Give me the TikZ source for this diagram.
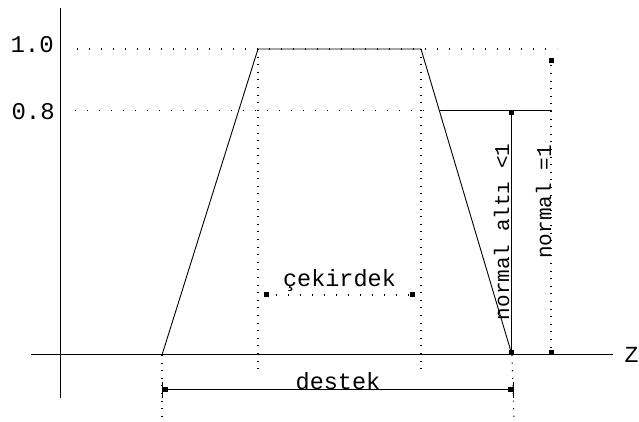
\documentclass[tikz,border=0pt]{standalone}
\usepackage{fontspec}
\setmonofont{Liberation Mono}
\usetikzlibrary{arrows.meta, positioning, calc}

\begin{document}
\begin{tikzpicture}[
  x=1pt, y=306pt,
  font=\ttfamily\fontsize{21}{24}\selectfont,
  axis/.style={draw=black, line width=1pt},
  fuzzy/.style={draw=black, line width=0.9pt},
  guide/.style={draw=black, line width=1.1pt, dash pattern=on 1.1pt off 10.9pt},
  guidev/.style={draw=black, line width=1.1pt, dash pattern=on 1.1pt off 6.5pt},
  dimline/.style={line width=0.9pt, {Square[length=5pt,width=5pt]}-{Square[length=5pt,width=5pt]}},
  lab/.style={inner sep=1pt},
  hlab/.style={inner sep=1pt, font=\ttfamily\fontsize{23.5}{26}\selectfont},
  ticklab/.style={font=\ttfamily\fontsize{24}{26}\selectfont, inner sep=1pt, anchor=east}
]
\useasboundingbox (-60,-0.219) rectangle (579,1.160);

%--------------------------------------------------------------
% Assi
%--------------------------------------------------------------
\coordinate (o) at (0,0);
\draw[axis] (0,-0.141) -- (0,1.134);
\draw[axis] (-29,0) coordinate (xa) -- (553,0) coordinate (xb);
\node[inner sep=0pt, font=\ttfamily\fontsize{23}{26}\selectfont] (zlab) at (571.5,0) {Z};

\node[ticklab] (uno) at (-5,1.015) {1.0};
\node[ticklab] (otto) at (-4,0.795) {0.8};

%--------------------------------------------------------------
% Trapezio
%--------------------------------------------------------------
\coordinate (a) at (102,0);
\coordinate (b) at (198,1);
\coordinate (c) at (361,1);
\coordinate (d) at (452,0);
\draw[fuzzy] (a) -- (b) -- (c) -- (d);

% livelli 1.0 e 0.8
\draw[guide] (17,1) -- (497,1);
\draw[guide] (15,0.8) -- (365,0.8);
\coordinate (c8) at ($(c)!0.2!(d)$);
\draw[fuzzy] (c8) -- (492,0.8) coordinate (r8);

%--------------------------------------------------------------
% Nucleo
%--------------------------------------------------------------
\draw[guidev] (b) -- (198,-0.046) coordinate (bb);
\draw[guidev] (c) -- (361,-0.046) coordinate (cb);
\coordinate (n1) at (198,0.196);
\coordinate (n2) at (361,0.196);
\draw[guide, {Bar[width=0pt,sep=5pt]Square[length=5pt,width=5pt]}-{Square[length=5pt,width=5pt]Bar[width=0pt,sep=5pt]}] (n1) -- (n2);
\node[hlab, above=2pt of $(n1)!0.5!(n2)$] (cekirdek) {çekirdek};

%--------------------------------------------------------------
% Supporto
%--------------------------------------------------------------
\draw[guidev] (a) -- (102,-0.219) coordinate (ab);
\draw[guidev] (d) -- (454,-0.219) coordinate (db);
\coordinate (s1) at (102,-0.114);
\coordinate (s2) at (454,-0.114);
\draw[line width=0.9pt,
  {Bar[width=16pt]Square[length=5pt,width=5pt]}-{Square[length=5pt,width=5pt]Bar[width=16pt]}]
  (s1) -- (s2);
\node[hlab, above=-1pt of $(s1)!0.5!(s2)$] (destek) {destek};

%--------------------------------------------------------------
% Altezze
%--------------------------------------------------------------
\coordinate (h1) at (451,0.8);
\coordinate (h0) at (451,0);
\draw[dimline] (h1) -- (h0);
\node[lab, rotate=90, anchor=base] (altnorm) at (449,0.402) {normal altı <1};

\coordinate (k1) at (491,1);
\coordinate (k0) at (491,0);
\draw[guidev, {Bar[width=0pt,sep=8pt]Square[length=5pt,width=5pt]}-{Square[length=5pt,width=5pt]}] (k1) -- (k0);
\node[lab, rotate=90, anchor=base] (norm) at (491,0.5) {normal =1};

\end{tikzpicture}
\end{document}
